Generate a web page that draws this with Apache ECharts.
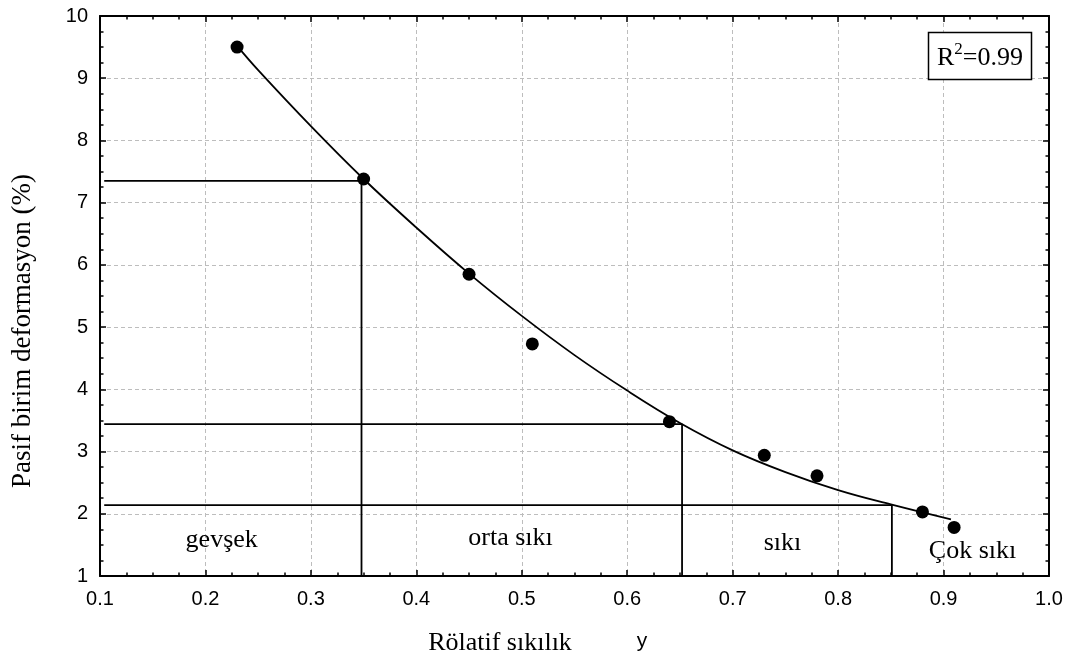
<!DOCTYPE html>
<html><head><meta charset="utf-8">
<script src="https://cdn.jsdelivr.net/npm/echarts@6/dist/echarts.min.js"></script>
<style>html,body{margin:0;padding:0;background:#fff}#c{width:1068px;height:662px}</style>
</head><body><div id="c"></div>
<script>
// measured points
const pointX = [0.23, 0.35, 0.45, 0.51, 0.64, 0.73, 0.78, 0.88, 0.91];
const pointY = [9.50, 7.38, 5.85, 4.73, 3.48, 2.94, 2.61, 2.03, 1.78];
// fitted curve
const curveX = [0.23, 0.25, 0.30, 0.35, 0.40, 0.45, 0.50, 0.55, 0.60, 0.65, 0.70, 0.75, 0.80, 0.85, 0.907];
const curveY = [9.52, 9.13, 8.23, 7.38, 6.60, 5.86, 5.18, 4.55, 3.98, 3.46, 3.02, 2.67, 2.38, 2.15, 1.91];
// reference lines (class boundaries)
const refY = [7.35, 3.44, 2.14];
const refX = [0.348, 0.652, 0.851];
const refStartX = 0.104;
const yBase = 1;
// texts
const zoneLabels = ['gevşek', 'orta sıkı', 'sıkı', 'Çok sıkı'];
const yAxisTitle = 'Pasif birim deformasyon (%)';
const xAxisTitle = 'Rölatif sıkılık';
const xAxisSymbol = 'y';
const r2Text = ['R', '2', '=0.99'];

const chart = echarts.init(document.getElementById('c'), null, {renderer: 'canvas'});
const SERIF = '"Liberation Serif", "Times New Roman", serif';
const SANS = '"Liberation Sans", Arial, sans-serif';

const gridLine = {show: true, lineStyle: {color: '#bdbdbd', width: 1, type: [4, 3]}};
const axLine = {show: true, onZero: false, lineStyle: {color: '#000', width: 2}};
const tick = {show: true, inside: true, length: 6, lineStyle: {color: '#000', width: 1.5}};
const minor = {show: true, splitNumber: 4, length: 3.5, lineStyle: {color: '#000', width: 1.5}};

const refSeries = refY.map((yv, i) => ({
  type: 'line',
  data: [[refStartX, yv], [refX[i], yv], [refX[i], yBase]],
  symbol: 'none',
  lineStyle: {color: '#000', width: 1.8},
  z: 2,
  silent: true
}));

const zonePos = [[221.7, 540.4], [510.5, 538], [782.5, 542.8], [972.5, 551]];

chart.setOption({
  animation: false,
  backgroundColor: '#fff',
  grid: {left: 100, top: 16, width: 949, height: 560, containLabel: false},
  xAxis: [{
    type: 'value', min: 0.1, max: 1.0, interval: 0.1, position: 'bottom',
    axisLine: axLine, axisTick: tick, minorTick: minor,
    splitLine: gridLine,
    axisLabel: {color: '#000', fontFamily: SANS, fontSize: 20, margin: 13,
      showMinLabel: true, showMaxLabel: true,
      formatter: v => v.toFixed(1)}
  }, {
    type: 'value', min: 0.1, max: 1.0, interval: 0.1, position: 'top',
    axisLine: axLine, axisTick: tick, minorTick: minor,
    splitLine: {show: false}, axisLabel: {show: false}
  }],
  yAxis: [{
    type: 'value', min: 1, max: 10, interval: 1, position: 'left',
    axisLine: axLine, axisTick: tick, minorTick: minor,
    splitLine: gridLine,
    axisLabel: {color: '#000', fontFamily: SANS, fontSize: 20, margin: 12,
      showMinLabel: true, showMaxLabel: true}
  }, {
    type: 'value', min: 1, max: 10, interval: 1, position: 'right',
    axisLine: axLine, axisTick: tick, minorTick: minor,
    splitLine: {show: false}, axisLabel: {show: false}
  }],
  series: [
    ...refSeries,
    {
      type: 'line',
      data: curveX.map((x, i) => [x, curveY[i]]),
      smooth: 0.4,
      symbol: 'none',
      lineStyle: {color: '#000', width: 1.8},
      z: 3, silent: true
    },
    {
      type: 'scatter',
      data: pointX.map((x, i) => [x, pointY[i]]),
      symbol: 'circle', symbolSize: 13,
      itemStyle: {color: '#000', opacity: 1},
      z: 5, silent: true
    }
  ],
  graphic: [
    ...zoneLabels.map((t, i) => ({
      type: 'text', x: zonePos[i][0], y: zonePos[i][1], z: 10,
      style: {text: t, fill: '#000', font: '26px ' + SERIF, align: 'center', verticalAlign: 'middle'}
    })),
    {
      type: 'text', x: 23, y: 331, rotation: Math.PI / 2, z: 10,
      style: {text: yAxisTitle, fill: '#000', font: '27px ' + SERIF, align: 'center', verticalAlign: 'middle'}
    },
    {
      type: 'text', x: 500, y: 643, z: 10,
      style: {text: xAxisTitle, fill: '#000', font: '26px ' + SERIF, align: 'center', verticalAlign: 'middle'}
    },
    {
      type: 'text', x: 642, y: 641, z: 10,
      style: {text: xAxisSymbol, fill: '#000', font: '21px ' + SANS, align: 'center', verticalAlign: 'middle'}
    },
    {
      type: 'rect', z: 8,
      shape: {x: 928.5, y: 32.5, width: 103, height: 47},
      style: {fill: '#fff', stroke: '#000', lineWidth: 1.5}
    },
    {
      type: 'text', x: 980, y: 58, z: 10,
      style: {
        text: '{r|' + r2Text[0] + '}{s|' + r2Text[1] + '}{r|' + r2Text[2] + '}',
        align: 'center', verticalAlign: 'middle',
        rich: {
          r: {fontFamily: SERIF, fontSize: 26, fill: '#000', lineHeight: 30},
          s: {fontFamily: SERIF, fontSize: 17, fill: '#000', padding: [0, 0, 16, 0]}
        }
      }
    }
  ]
});
</script>
</body></html>
